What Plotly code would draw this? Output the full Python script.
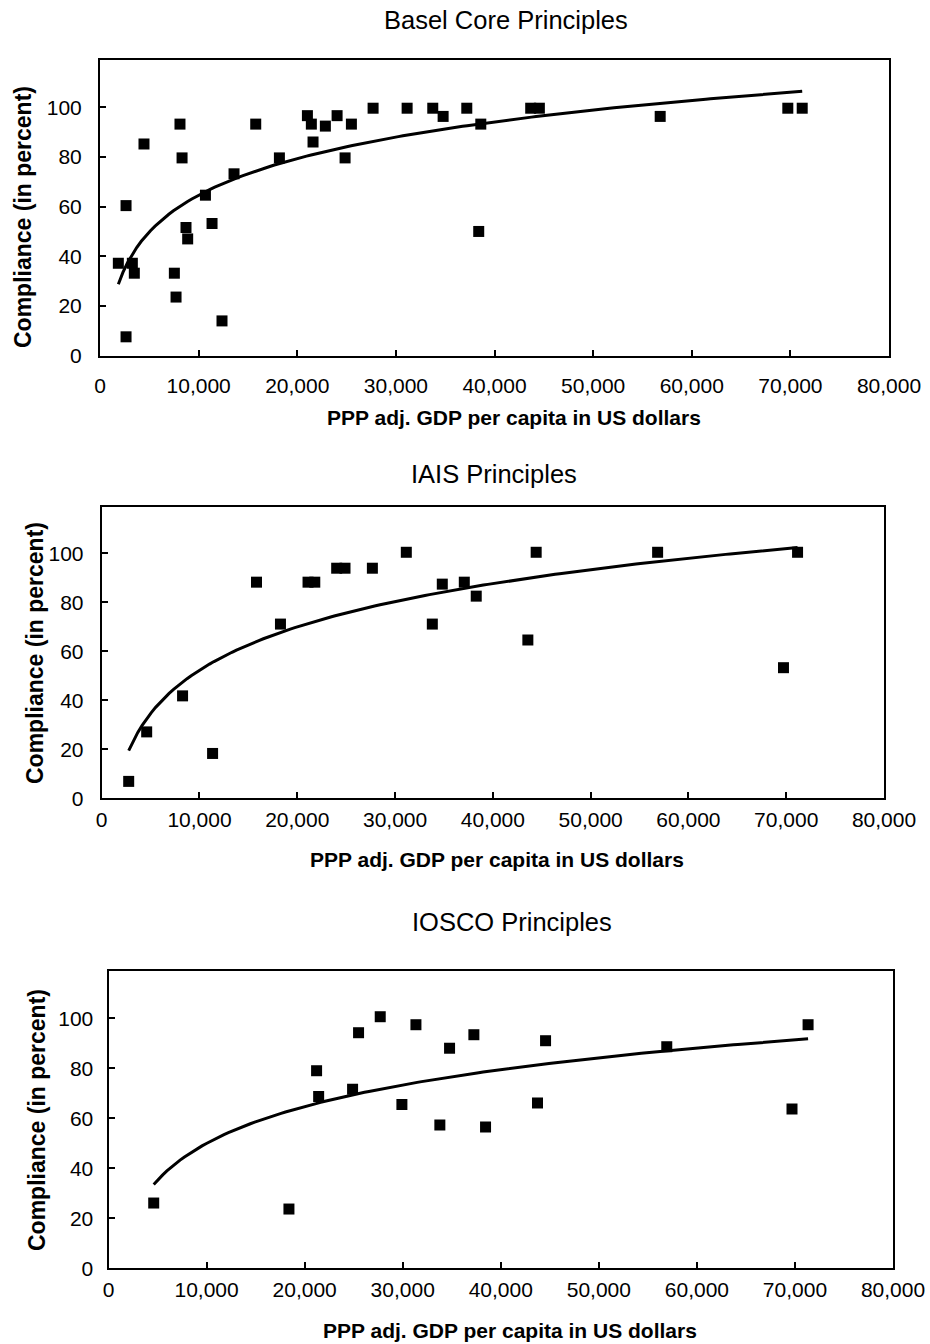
import numpy as np
import plotly.graph_objects as go

W, H = 930, 1344

# ---------------- data ----------------
basel_gdp = [1860, 2640, 2640, 3280, 3480, 4460, 7540, 7710, 8110, 8320, 8720, 8890,
             10690, 11360, 12370, 13590, 15790, 18190, 21030, 21430, 21600, 22850,
             24040, 24850, 25490, 27690, 31140, 33740, 34790, 37190, 38400, 38610,
             43670, 44550, 56800, 69740, 71200]
basel_comp = [37.2, 60.4, 7.6, 37.2, 33.2, 85.2, 33.2, 23.6, 93.2, 79.6, 51.6, 47.0,
              64.6, 53.2, 14.0, 73.2, 93.2, 79.6, 96.6, 93.2, 86.0, 92.4,
              96.6, 79.6, 93.2, 99.6, 99.6, 99.6, 96.3, 99.6, 50.0, 93.2,
              99.6, 99.6, 96.3, 99.6, 99.6]

iais_gdp = [2760, 4600, 8270, 11340, 15830, 18280, 21100, 21790, 24030, 24880, 27680,
            31150, 33810, 34830, 37080, 38300, 43580, 44430, 56850, 69720, 71160]
iais_comp = [6.9, 27.1, 41.8, 18.3, 88.2, 71.1, 88.2, 88.2, 93.9, 93.9, 93.9,
             100.4, 71.1, 87.4, 88.2, 82.5, 64.6, 100.4, 100.4, 53.3, 100.4]

iosco_gdp = [4610, 18400, 21220, 21430, 24890, 25500, 27710, 29920, 31350, 33790,
             34780, 37260, 38450, 43750, 44570, 56930, 69700, 71340]
iosco_comp = [26.1, 23.7, 79.0, 68.7, 71.6, 94.2, 100.6, 65.5, 97.4, 57.3,
              88.0, 93.4, 56.5, 66.1, 91.0, 88.6, 63.7, 97.4]

titles = ["Basel Core Principles", "IAIS Principles", "IOSCO Principles"]
x_title = "PPP adj. GDP per capita in US dollars"
y_title = "Compliance (in percent)"
x_tick_vals = [0, 10000, 20000, 30000, 40000, 50000, 60000, 70000, 80000]
y_tick_vals = [0, 20, 40, 60, 80, 100]

# ---------------- layout geometry (pixels) ----------------
# left, right, top, bottom of each plot frame
boxes = [(100, 889, 60, 355.7), (101.7, 884, 506.7, 798.3), (108.5, 893, 970.7, 1268.3)]
title_pos = [(506, 20), (494, 474), (512, 922)]
xtitle_pos = [(514, 417), (497, 860), (510, 1330)]
ytitle_pos = [(23, 217), (35, 653), (37, 1120)]
x_standoff = [10, 1, 1]
y_standoff = [12, 12, 9]

FONT = "Liberation Sans, Arial, sans-serif"


def px_x(x):
    return x / W


def px_y(y):
    return 1 - y / H


def log_trend(x, y):
    x = np.asarray(x, float)
    y = np.asarray(y, float)
    b, a = np.polyfit(np.log(x), y, 1)
    xs = np.linspace(x.min(), x.max(), 150)
    return xs, a + b * np.log(xs)


fig = go.Figure()
series = [(basel_gdp, basel_comp), (iais_gdp, iais_comp), (iosco_gdp, iosco_comp)]
annotations = []
for i, ((gx, gy), (l, r, t, b)) in enumerate(zip(series, boxes)):
    n = "" if i == 0 else str(i + 1)
    xa, ya = "x" + n, "y" + n
    fig.add_trace(go.Scatter(x=gx, y=gy, mode="markers", xaxis=xa, yaxis=ya,
                             marker=dict(symbol="square", size=11, color="black"),
                             showlegend=False, cliponaxis=False))
    tx, ty = log_trend(gx, gy)
    fig.add_trace(go.Scatter(x=tx, y=ty, mode="lines", xaxis=xa, yaxis=ya,
                             line=dict(color="black", width=3),
                             showlegend=False))
    axis_common = dict(showline=True, mirror=True, linecolor="black", linewidth=2,
                       ticks="inside", ticklen=6, tickwidth=1.5, tickcolor="black",
                       showgrid=False, zeroline=False, automargin=False,
                       tickfont=dict(family=FONT, size=21, color="black"))
    fig.update_layout(**{
        "xaxis" + n: dict(axis_common, domain=[px_x(l), px_x(r)], range=[0, 80000],
                          tickvals=x_tick_vals, tickformat=",d",
                          ticklabelstandoff=x_standoff[i], anchor=ya),
        "yaxis" + n: dict(axis_common, domain=[px_y(b), px_y(t)], range=[0, 119],
                          tickvals=y_tick_vals, ticklabelstandoff=y_standoff[i],
                          anchor=xa),
    })
    annotations.append(dict(text=titles[i], x=px_x(title_pos[i][0]), y=px_y(title_pos[i][1]),
                            xref="paper", yref="paper", showarrow=False,
                            xanchor="center", yanchor="middle",
                            font=dict(family=FONT, size=25.5, color="black")))
    annotations.append(dict(text="<b>%s</b>" % x_title, x=px_x(xtitle_pos[i][0]),
                            y=px_y(xtitle_pos[i][1]), xref="paper", yref="paper",
                            showarrow=False, xanchor="center", yanchor="middle",
                            font=dict(family=FONT, size=21, color="black")))
    annotations.append(dict(text="<b>%s</b>" % y_title, x=px_x(ytitle_pos[i][0]),
                            y=px_y(ytitle_pos[i][1]), xref="paper", yref="paper",
                            showarrow=False, xanchor="center", yanchor="middle",
                            textangle=-90,
                            font=dict(family=FONT, size=23, color="black")))

fig.update_layout(width=W, height=H, autosize=False,
                  margin=dict(l=0, r=0, t=0, b=0, pad=0),
                  paper_bgcolor="white", plot_bgcolor="white",
                  annotations=annotations, showlegend=False)

fig.write_html("out.html", config={"responsive": False})
